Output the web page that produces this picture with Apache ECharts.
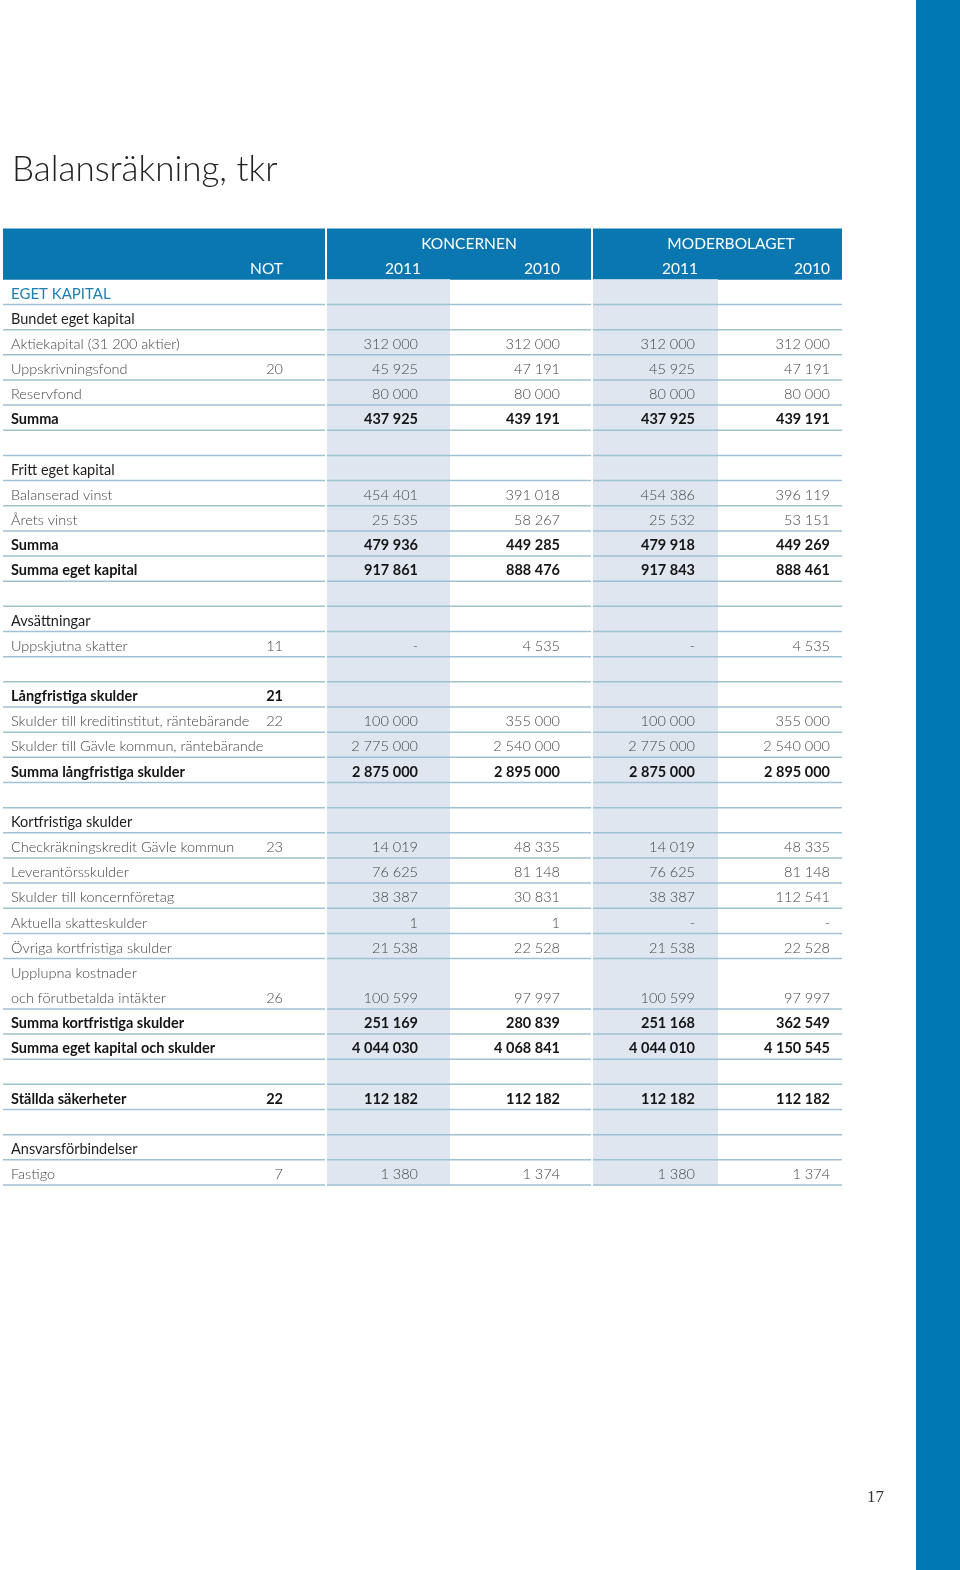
<!DOCTYPE html>
<html>
<head>
<meta charset="utf-8">
<script src="https://cdn.jsdelivr.net/npm/echarts@6/dist/echarts.min.js"></script>
<style>
html,body{margin:0;padding:0;background:#fff;}
#chart{width:960px;height:1570px;}
</style>
</head>
<body>
<div id="chart"></div>
<script>
// ---------- DATA ----------
const titleText = 'Balansräkning, tkr';
const pageNumber = '17';
const groupHeaders = ['KONCERNEN', 'MODERBOLAGET'];
const noteHeader = 'NOT';
const yearHeaders = ['2011', '2010', '2011', '2010'];

const labels = [
  'EGET KAPITAL',
  'Bundet eget kapital',
  'Aktiekapital (31 200 aktier)',
  'Uppskrivningsfond',
  'Reservfond',
  'Summa',
  '',
  'Fritt eget kapital',
  'Balanserad vinst',
  'Årets vinst',
  'Summa',
  'Summa eget kapital',
  '',
  'Avsättningar',
  'Uppskjutna skatter',
  '',
  'Långfristiga skulder',
  'Skulder till kreditinstitut, räntebärande',
  'Skulder till Gävle kommun, räntebärande',
  'Summa långfristiga skulder',
  '',
  'Kortfristiga skulder',
  'Checkräkningskredit Gävle kommun',
  'Leverantörsskulder',
  'Skulder till koncernföretag',
  'Aktuella skatteskulder',
  'Övriga kortfristiga skulder',
  'Upplupna kostnader',
  'och förutbetalda intäkter',
  'Summa kortfristiga skulder',
  'Summa eget kapital och skulder',
  '',
  'Ställda säkerheter',
  '',
  'Ansvarsförbindelser',
  'Fastigo'
];

// row kinds: section, head, item, sum, blank, wrap (label continues on next row)
const rowKinds = [
  'section','head','item','item','item','sum','blank',
  'head','item','item','sum','sum','blank',
  'head','item','blank',
  'sum','item','item','sum','blank',
  'head','item','item','item','item','item','wrap','item','sum','sum','blank',
  'sum','blank',
  'head','item'
];

const notes = [
  '', '', '', '20', '', '', '',
  '', '', '', '', '', '',
  '', '11', '',
  '21', '22', '', '', '',
  '', '23', '', '', '', '', '', '26', '', '', '',
  '22', '',
  '', '7'
];

// null = empty cell, '-' = dash
const koncernen2011 = [
  null, null, 312000, 45925, 80000, 437925, null,
  null, 454401, 25535, 479936, 917861, null,
  null, '-', null,
  null, 100000, 2775000, 2875000, null,
  null, 14019, 76625, 38387, 1, 21538, null, 100599, 251169, 4044030, null,
  112182, null,
  null, 1380
];
const koncernen2010 = [
  null, null, 312000, 47191, 80000, 439191, null,
  null, 391018, 58267, 449285, 888476, null,
  null, 4535, null,
  null, 355000, 2540000, 2895000, null,
  null, 48335, 81148, 30831, 1, 22528, null, 97997, 280839, 4068841, null,
  112182, null,
  null, 1374
];
const moderbolaget2011 = [
  null, null, 312000, 45925, 80000, 437925, null,
  null, 454386, 25532, 479918, 917843, null,
  null, '-', null,
  null, 100000, 2775000, 2875000, null,
  null, 14019, 76625, 38387, '-', 21538, null, 100599, 251168, 4044010, null,
  112182, null,
  null, 1380
];
const moderbolaget2010 = [
  null, null, 312000, 47191, 80000, 439191, null,
  null, 396119, 53151, 449269, 888461, null,
  null, 4535, null,
  null, 355000, 2540000, 2895000, null,
  null, 48335, 81148, 112541, '-', 22528, null, 97997, 362549, 4150545, null,
  112182, null,
  null, 1374
];

// ---------- LAYOUT / STYLE ----------
const BLUE = '#0a77b0';
const STRIP = '#0078b3';
const LIGHT = '#dfe6f0';
const RULE = '#9fc1d4';
const FONT = 'Lato, "Open Sans", sans-serif';
const HEADER_ROWS = 2;

// x positions in grid units (px from table's left edge)
const SEGMENTS = [[0, 322], [324, 588], [590, 839]];
const SHADED = [[324, 447], [590, 715]];
const LABEL_X = 8;
const NOTE_X = 280;
const VALUE_X = [415, 557, 692, 827];
const GROUP_CX = [466, 728];
const YEAR_POS = [[400, 'center'], [557, 'right'], [677, 'center'], [827, 'right']];

const valueCols = [koncernen2011, koncernen2010, moderbolaget2011, moderbolaget2010];

function fmt(v) {
  if (v === null || v === undefined) return '';
  if (typeof v === 'string') return v;
  return String(v).replace(/\B(?=(\d{3})+(?!\d))/g, ' ');
}

function textStyleFor(kind) {
  switch (kind) {
    case 'section': return {fill: '#1b7fb0', fontWeight: 400};
    case 'head': return {fill: '#1e1e1e', fontWeight: 400};
    case 'sum': return {fill: '#151515', fontWeight: 700};
    default: return {fill: '#454545', fontWeight: 300};
  }
}

const totalRows = HEADER_ROWS + labels.length;
const categories = [];
for (let i = 0; i < totalRows; i++) categories.push(String(i));
const seriesData = categories.map((c, i) => [0, i]);

function renderItem(params, api) {
  const i = api.value(1);
  const center = api.coord([0, i]);
  const h = api.size([0, 1])[1];
  const cy = center[1];
  const top = cy - h / 2;
  const bottom = cy + h / 2;
  const X = v => api.coord([v, i])[0];
  const children = [];
  const txt = (text, x, align, st, size) => ({
    type: 'text', z2: 10,
    style: Object.assign({
      text: text, x: x, y: cy + 2, align: align, verticalAlign: 'middle',
      fontSize: size || 14.5, fontFamily: FONT
    }, st)
  });

  if (i < HEADER_ROWS) {
    SEGMENTS.forEach(s => {
      children.push({type: 'rect', z2: 0,
        shape: {x: X(s[0]), y: top - 0.5, width: X(s[1]) - X(s[0]), height: h + 1},
        style: {fill: BLUE}});
    });
    const hs = {fill: '#ffffff', fontWeight: 400};
    if (i === 0) {
      groupHeaders.forEach((g, k) => children.push(txt(g, X(GROUP_CX[k]), 'center', hs, 15.5)));
    } else {
      children.push(txt(noteHeader, X(NOTE_X), 'right', hs, 15.5));
      yearHeaders.forEach((y, k) => children.push(txt(y, X(YEAR_POS[k][0]), YEAR_POS[k][1], hs, 15.5)));
    }
    return {type: 'group', children: children};
  }

  const j = i - HEADER_ROWS;
  const kind = rowKinds[j];
  SHADED.forEach(s => {
    children.push({type: 'rect', z2: 0,
      shape: {x: X(s[0]), y: top, width: X(s[1]) - X(s[0]), height: h + 0.5},
      style: {fill: LIGHT}});
  });
  if (kind !== 'wrap') {
    SEGMENTS.forEach(s => {
      children.push({type: 'line', z2: 5,
        shape: {x1: X(s[0]), y1: bottom, x2: X(s[1]), y2: bottom},
        style: {stroke: RULE, lineWidth: 1.5}});
    });
  }
  const st = textStyleFor(kind);
  if (labels[j]) children.push(txt(labels[j], X(LABEL_X), 'left', st, kind === 'section' ? 15 : 14.5));
  if (notes[j]) children.push(txt(notes[j], X(NOTE_X), 'right', st));
  valueCols.forEach((col, k) => {
    const s = fmt(col[j]);
    if (s) children.push(txt(s, X(VALUE_X[k]), 'right', st));
  });
  return {type: 'group', children: children};
}

const chart = echarts.init(document.getElementById('chart'), null, {renderer: 'canvas'});
chart.setOption({
  animation: false,
  backgroundColor: '#ffffff',
  title: {
    text: titleText,
    left: 7, top: 147,
    textStyle: {fontFamily: FONT, fontWeight: 300, fontSize: 35, color: '#222222'}
  },
  graphic: [
    {type: 'rect', right: 0, top: 0, shape: {width: 44, height: 1570}, style: {fill: STRIP}},
    {type: 'text', left: 867, top: 1489,
     style: {text: pageNumber, fontFamily: '"Liberation Serif", serif', fontSize: 17, fill: '#333333'}}
  ],
  grid: {left: 3, top: 229, width: 839, height: 956, containLabel: false},
  xAxis: {type: 'value', min: 0, max: 839, show: false},
  yAxis: {type: 'category', data: categories, inverse: true, show: false},
  series: [{
    type: 'custom',
    renderItem: renderItem,
    encode: {x: 0, y: 1},
    data: seriesData,
    silent: true
  }]
});
</script>
</body>
</html>
